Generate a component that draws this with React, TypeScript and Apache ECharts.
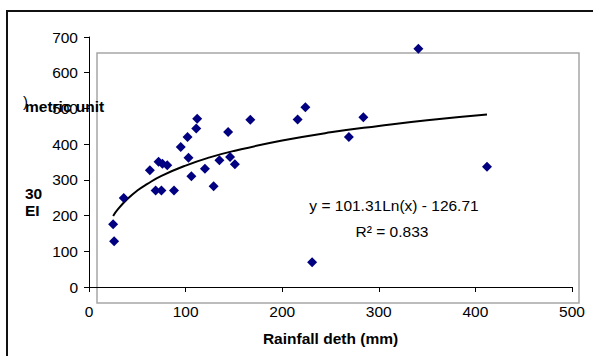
import React, { useEffect, useRef } from "react";
import * as echarts from "echarts";

// Scatter observations: rainfall depth (mm) and EI30 (metric unit)
const rainfall = [25, 26, 36, 63, 69, 75, 72, 76, 81, 88, 95, 102, 103, 106, 111, 112, 120, 129, 135, 144, 146, 151, 167, 216, 224, 231, 269, 284, 341, 412];
const ei30 = [176, 128, 249, 327, 270, 270, 351, 345, 341, 270, 392, 420, 362, 310, 444, 471, 331, 282, 355, 434, 364, 344, 468, 469, 503, 69, 420, 475, 667, 337];

// Logarithmic trend line
const trendX = [25, 30, 40, 50, 60, 75, 100, 125, 150, 200, 250, 300, 350, 412];
const trendY = [199, 218, 247, 270, 288, 311, 340, 363, 381, 410, 433, 451, 467, 483];

const xTicks = { min: 0, max: 500, interval: 100 };
const yTicks = { min: 0, max: 700, interval: 100 };

const equationText = "y = 101.31Ln(x) - 126.71";
const r2Text = "R\u00b2 = 0.833";
const xAxisName = "Rainfall deth (mm)";

export default function App() {
  const ref = useRef<HTMLDivElement>(null);
  useEffect(() => {
    if (!ref.current) return;
    const chart = echarts.init(ref.current, null, { renderer: "svg" });
    const font = "Arial, 'Liberation Sans', sans-serif";
    chart.setOption({
      animation: false,
      backgroundColor: "#ffffff",
      grid: { left: 89, top: 37, right: 21, bottom: 69, containLabel: false },
      xAxis: {
        type: "value",
        min: xTicks.min,
        max: xTicks.max,
        interval: xTicks.interval,
        name: xAxisName,
        nameLocation: "middle",
        nameGap: 43,
        nameTextStyle: { color: "#000", fontSize: 15.5, fontWeight: "bold", fontFamily: font },
        axisLine: { lineStyle: { color: "#000", width: 1 } },
        axisTick: { show: true, inside: false, length: 5, lineStyle: { color: "#000" } },
        axisLabel: { color: "#000", fontSize: 15.5, fontFamily: font, margin: 16 },
        splitLine: { show: false },
      },
      yAxis: {
        type: "value",
        min: yTicks.min,
        max: yTicks.max,
        interval: yTicks.interval,
        axisLine: { show: true, lineStyle: { color: "#000", width: 1 } },
        axisTick: { show: true, inside: false, length: 5, lineStyle: { color: "#000" } },
        axisLabel: { color: "#000", fontSize: 15.5, fontFamily: font, margin: 11 },
        splitLine: { show: false },
      },
      graphic: [
        {
          type: "rect",
          z: 0,
          silent: true,
          shape: { x: 97, y: 53, width: 482, height: 250 },
          style: { fill: "none", stroke: "#a6a6a6", lineWidth: 1.5 },
        },
        {
          type: "polyline",
          silent: true,
          shape: { points: [[7, 356], [7, 11], [593, 11]] },
          style: { fill: "none", stroke: "#111", lineWidth: 2 },
        },
        {
          type: "text",
          x: 394,
          y: 205,
          style: { text: equationText, fill: "#000", font: `15.5px ${font}`, align: "center", verticalAlign: "middle" },
        },
        {
          type: "text",
          x: 392,
          y: 231,
          style: { text: r2Text, fill: "#000", font: `15.5px ${font}`, align: "center", verticalAlign: "middle" },
        },
        {
          type: "text",
          x: 25,
          y: 106,
          z: 10,
          style: { text: "metric unit", fill: "#000", font: `bold 15.5px ${font}`, align: "left", verticalAlign: "middle" },
        },
        {
          type: "text",
          x: 23,
          y: 101,
          z: 10,
          style: { text: ")", fill: "#000", font: `15px ${font}`, align: "left", verticalAlign: "middle" },
        },
        {
          type: "text",
          x: 25,
          y: 193,
          style: { text: "30", fill: "#000", font: `bold 15.5px ${font}`, align: "left", verticalAlign: "middle" },
        },
        {
          type: "text",
          x: 25,
          y: 210,
          style: { text: "EI", fill: "#000", font: `bold 15.5px ${font}`, align: "left", verticalAlign: "middle" },
        },
      ],
      series: [
        {
          type: "scatter",
          data: rainfall.map((x, i) => [x, ei30[i]]),
          symbol: "diamond",
          symbolSize: [10, 10],
          itemStyle: { color: "#000080", opacity: 1 },
          z: 3,
        },
        {
          type: "line",
          data: trendX.map((x, i) => [x, trendY[i]]),
          smooth: true,
          showSymbol: false,
          lineStyle: { color: "#000", width: 2 },
          z: 2,
        },
      ],
    });
    return () => chart.dispose();
  }, []);
  return (
    <div
      ref={ref}
      style={{ position: "fixed", left: 0, top: 0, width: 593, height: 356, background: "#fff" }}
    />
  );
}
